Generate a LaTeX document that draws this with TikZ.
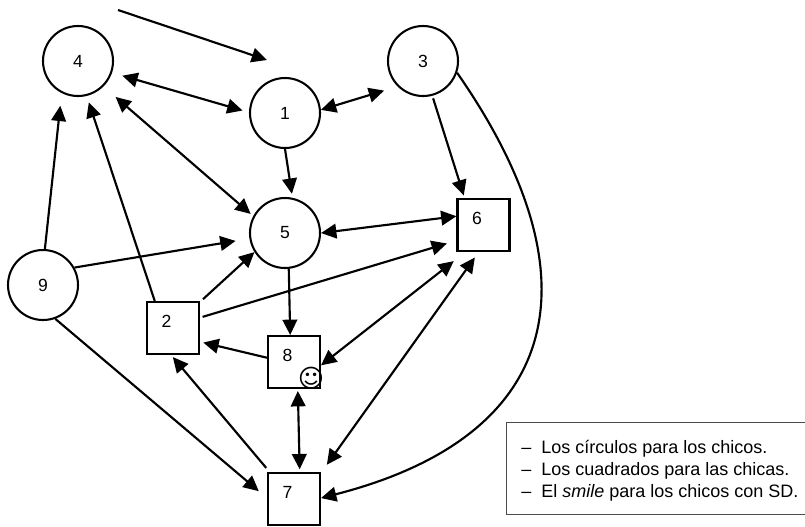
\documentclass[tikz,border=0pt]{standalone}
\usepackage{fontspec}
\setmainfont{Liberation Sans}
\newfontfamily\symfont{DejaVu Sans}
\usetikzlibrary{arrows.meta,calc}
\begin{document}
\begin{tikzpicture}[x=0.75pt,y=-0.75pt,
  every node/.style={font=\fontsize{13.2pt}{15pt}\selectfont},
  boy/.style={draw, circle, line width=1.55pt, minimum size=52.5pt, inner sep=0pt},
  girl/.style={draw, rectangle, line width=1.55pt, minimum size=39pt, inner sep=0pt},
  sqlabel/.style={label={[xshift=-4.9pt,yshift=5.2pt]center:#1}},
  arr/.style={line width=1.6pt, -{Triangle[length=11.5pt,width=11pt]}},
  darr/.style={line width=1.6pt, {Triangle[length=11.5pt,width=11pt]}-{Triangle[length=11.5pt,width=11pt]}},
  legtext/.style={font=\fontsize{13.5pt}{16.5pt}\selectfont, inner sep=0pt, anchor=base west},
]
\useasboundingbox (0,0) rectangle (805,526);

% boys (circles)
\node[boy] (4) at (78,61) {4};
\node[boy] (1) at (285,113) {1};
\node[boy] (3) at (423,61) {3};
\node[boy] (5) at (285,233) {5};
\node[boy] (9) at (43,285) {9};

% girls (squares)
\node[girl, sqlabel=6] (6) at (483.5,225) {};
\node[girl, sqlabel=2] (2) at (173,328) {};
\node[girl, sqlabel=8] (8) at (294,362) {};
\node[girl, sqlabel=7] (7) at (294,499) {};

% smile
\node[font=\symfont\fontsize{19pt}{19pt}\selectfont, inner sep=0pt] (smile) at (311,378) {☺};

% free arrow
\coordinate (s0) at (118,10);
\coordinate (t0) at (267,60);
\draw[arr] (s0) -- (t0);

% connectors
\draw[darr, shorten <=8pt, shorten >=5pt] (4.-19) -- (1.179);
\draw[darr, shorten >=10.5pt] (1.5) -- (3.-135);
\draw[arr, shorten >=3pt] (1.-90) -- (5.78);
\draw[darr, shorten <=12pt, shorten >=2.5pt] (4.-45) -- (5.152);
\draw[arr, shorten >=9.5pt] (9.87) -- (4.-117);
\draw[arr, shorten >=5pt] (2.124.7) -- (4.-76);
\draw[arr, shorten >=10.5pt] (9.29) -- (5.-171);
\draw[darr] (5.0) -- (6.162);
\draw[arr, shorten <=3pt] (2.44) -- (5.-148);
\draw[arr, shorten <=2pt, shorten >=7.5pt] (2.21) -- (6.-150);
\draw[darr, shorten >=11pt] (8.-7) -- (6.-124);
\draw[darr, shorten <=5pt, shorten >=7.5pt] (6.-100) -- (7.44);
\draw[arr] (5.-84) -- (8.98);
\draw[arr, shorten >=2.5pt] (8.171) -- (2.-27);
\draw[arr, shorten <=2pt, shorten >=2pt] (3.-75) -- (6.125);
\draw[arr] (3.-19) .. controls (600,278) and (563,436) .. (7.2);
\draw[arr, shorten >=8pt] (9.-70) -- (7.178);
\draw[arr, shorten <=4pt, shorten >=2pt] (7.132) -- (2.-94);
\draw[darr, shorten <=1.5pt, shorten >=2pt] (8.-82) -- (7.78);

% legend
\node[draw=black!70, line width=1pt, rectangle, minimum width=225pt, minimum height=69pt, inner sep=0pt, anchor=north west] (legend) at (506,422) {};
\node[legtext] (l1) at (521,453) {\makebox[15pt][l]{–}Los círculos para los chicos.};
\node[legtext] (l2) at (521,475) {\makebox[15pt][l]{–}Los cuadrados para las chicas.};
\node[legtext] (l3) at (521,497) {\makebox[15pt][l]{–}El \textit{smile} para los chicos con SD.};
\end{tikzpicture}
\end{document}
